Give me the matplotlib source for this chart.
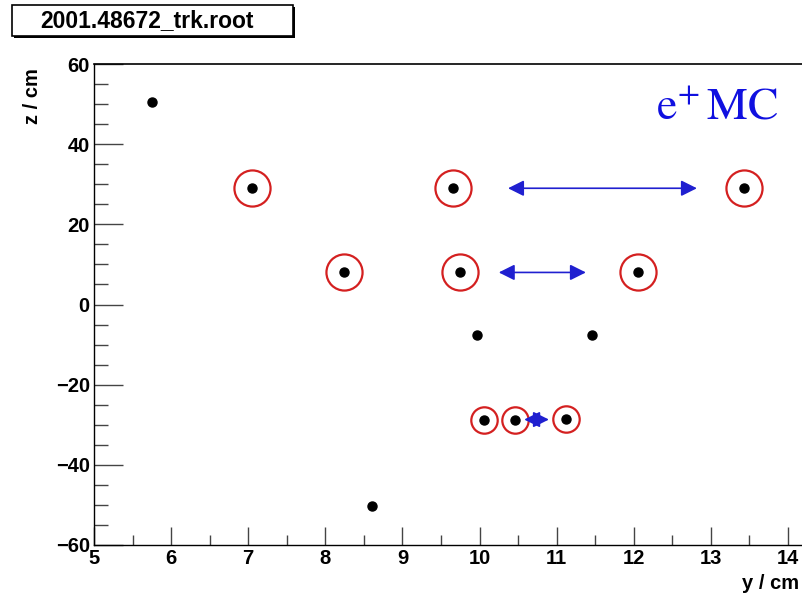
import numpy as np
import matplotlib.pyplot as plt
from matplotlib.patches import Rectangle

plt.rcParams['mathtext.fontset'] = 'stix'

# hits (y, z) in cm
y_hits = [5.75, 7.05, 9.66, 13.43, 8.24, 9.75, 12.06, 9.97, 11.46, 10.06, 10.46, 11.12, 8.60]
z_hits = [50.5, 29.0, 29.0, 29.0, 8.0, 8.0, 8.0, -7.6, -7.6, -28.8, -28.8, -28.6, -50.3]
circled = [False, True, True, True, True, True, True, False, False, True, True, True, False]
ring_size = [0, 26, 26, 26, 26, 26, 26, 0, 0, 19, 19, 19, 0]

# double arrows (y start, y end, z)
arr_y0 = [10.37, 10.25, 10.58]
arr_y1 = [12.82, 11.38, 10.90]
arr_z = [29.0, 8.0, -28.7]

fig = plt.figure(figsize=(8.02, 5.98), dpi=100)
ax = fig.add_axes([94 / 802, 53 / 598, 708 / 802, 481 / 598])

ax.set_xlim(5, 5 + 708 / 77.1)
ax.set_ylim(-60, 60)

for y, z, c, s in zip(y_hits, z_hits, circled, ring_size):
    if c:
        ax.plot(y, z, marker='o', ms=s, mfc='none', mec='#d42020', mew=1.6, zorder=3)
    ax.plot(y, z, marker='o', ms=6.5, color='black', zorder=4)

for a, b, z in zip(arr_y0, arr_y1, arr_z):
    ax.annotate('', xy=(b, z), xytext=(a, z),
                arrowprops=dict(arrowstyle='<|-|>', color='#2020d0', lw=1.2,
                                mutation_scale=24, shrinkA=0, shrinkB=0),
                zorder=5)

ax.text(0.967, 0.91, r'$\mathrm{e}^{+}\,\mathrm{MC}$', transform=ax.transAxes,
        ha='right', va='center', color='#1010e0', fontsize=33)

# axes styling like ROOT
for side in ['top', 'right']:
    ax.spines[side].set_visible(False)
ax.spines['left'].set_linewidth(1.0)
ax.spines['bottom'].set_linewidth(1.0)
ax.axhline(60, color='black', lw=1.2, clip_on=False)

ax.set_xticks(np.arange(5, 15, 1))
ax.set_xticks(np.arange(5, 14.5, 0.5), minor=True)
ax.set_yticks(np.arange(-60, 61, 20))
ax.set_yticks(np.arange(-60, 61, 5), minor=True)
ax.tick_params(which='both', direction='in', color='#444444', width=1.0)
ax.tick_params(axis='x', which='major', length=13, pad=3)
ax.tick_params(axis='x', which='minor', length=7)
ax.tick_params(axis='y', which='major', length=21, pad=3)
ax.tick_params(axis='y', which='minor', length=10)

for lab in ax.get_xticklabels() + ax.get_yticklabels():
    lab.set_fontfamily('Liberation Sans')
    lab.set_fontweight('bold')
    lab.set_fontsize(14.5)

fig.text(0.997, 0.025, 'y / cm', ha='right', va='center', fontsize=14.5,
         fontweight='bold', family='Liberation Sans')
fig.text(0.04, 0.84, 'z / cm', ha='center', va='center', rotation=90, fontsize=14.5,
         fontweight='bold', family='Liberation Sans')

# title box with shadow
fig.patches.append(Rectangle((14 / 802, 1 - 38 / 598), 281 / 802, 31 / 598,
                             transform=fig.transFigure, facecolor='black',
                             edgecolor='black', lw=0))
fig.patches.append(Rectangle((12 / 802, 1 - 36 / 598), 281 / 802, 31 / 598,
                             transform=fig.transFigure, facecolor='white',
                             edgecolor='black', lw=1.2))
fig.text(147 / 802, 1 - 21 / 598, '2001.48672_trk.root', ha='center', va='center',
         fontsize=16.5, fontweight='bold', family='Liberation Sans')

fig.savefig('out.png', dpi=100)
